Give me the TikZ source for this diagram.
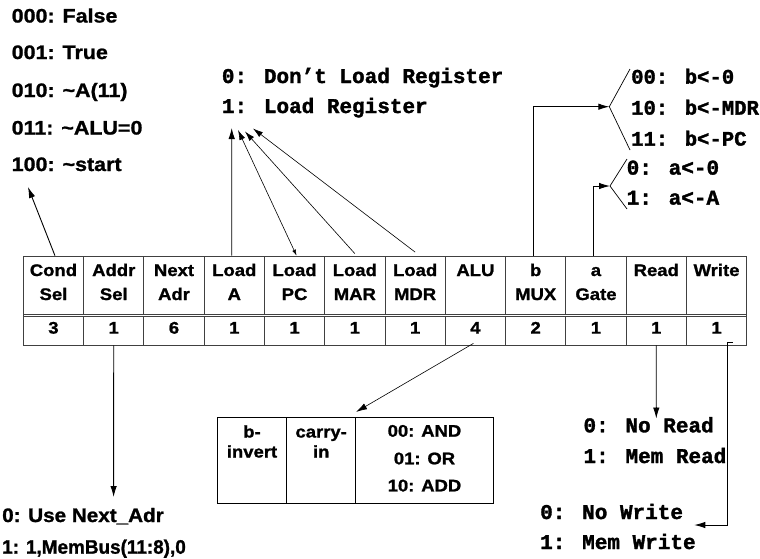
\documentclass[tikz,border=0pt]{standalone}
\usepackage{fontspec}
\usetikzlibrary{arrows.meta,calc}
\newfontfamily\hvb{Liberation Sans Bold}[FakeStretch=1.1, FakeBold=1.2]
\newfontfamily\hvbn{Liberation Sans Bold}[FakeStretch=0.97, FakeBold=1.2]
\newfontfamily\hvbm{Liberation Sans Bold}[FakeStretch=1.06, FakeBold=1.2]
\newfontfamily\monob{Liberation Mono Bold}[FakeBold=1.6]
\begin{document}
\begin{tikzpicture}[x=1pt,y=-1pt,
  tline/.style={draw=black!75, line width=0.8pt},
  hbox/.style={tline, minimum width=60.28pt, minimum height=58pt, inner sep=0pt},
  nbox/.style={tline, minimum width=60.28pt, minimum height=29pt, inner sep=0pt},
  abox/.style={draw=black, line width=0.8pt, minimum height=86pt, inner sep=0pt},
  tt/.style={font=\hvb\fontsize{16.8}{19}\selectfont, inner sep=0pt, anchor=base},
  lbl/.style={font=\hvb\fontsize{19.5}{22}\selectfont, inner sep=0pt, anchor=west, text height=14pt, text depth=0pt},
  mlbl/.style={font=\monob\fontsize{21}{24}\selectfont, inner sep=0pt, anchor=west, text height=12.6pt, text depth=0pt},
  arr/.style={draw=black, line width=0.9pt, -{Latex[length=11pt,width=6.5pt]}},
  brk/.style={draw=black, line width=0.7pt}
]
\useasboundingbox (0,0) rectangle (760,558);

% table
\foreach \i/\ta/\tb/\n in {1/Cond/Sel/3, 2/Addr/Sel/1, 3/Next/Adr/6, 4/Load/A/1, 5/Load/PC/1, 6/Load/MAR/1, 7/Load/MDR/1, 8/ALU//4, 9/b/MUX/2, 10/a/Gate/1, 11/Read//1, 12/Write//1}{
  \pgfmathsetmacro{\cx}{23.3+(\i-1)*60.28+30.14}
  \node[hbox] (c\i) at (\cx,285) {};
  \node[nbox] (n\i) at (\cx,330.5) {};
  \node[tt] (ha\i) at (\cx,276) {\ta};
  \node[tt] (hb\i) at (\cx,300) {\tb};
  \node[tt] (nv\i) at (\cx,333.6) {\n};
}
\draw[tline] (23.3,314) -- (23.3,316) (746.7,314) -- (746.7,316);

% left condition labels
\node[lbl] (cs0) at (11.5,15.5) {000: False};
\node[lbl] (cs1) at (11.5,52) {001: True};
\node[lbl] (cs2) at (11.5,90) {010: \textasciitilde A(11)};
\node[lbl] (cs3) at (11.5,127.5) {011: \textasciitilde ALU=0};
\node[lbl] (cs4) at (11.5,164) {100: \textasciitilde start};
\coordinate (cst) at (28,187);
\draw[arr] ($(c1.north)+(1.5,0)$) -- (cst);

% load register labels
\node[mlbl] (ld0) at (221.7,76.7) {0: Don’t Load Register};
\node[mlbl] (ld1) at (221.7,106.7) {1: Load Register};
\coordinate (la) at (231.7,128);
\coordinate (lp) at (238,130);
\coordinate (lm) at (245,131.5);
\coordinate (ld) at (253,128.5);
\draw[arr] ($(c4.north)+(-2.5,0)$) -- (la);
\draw[draw=black, line width=0.6pt, {Latex[length=6pt,width=4pt]}-{Latex[length=10pt,width=6pt]}] ($(c5.north)+(2,0)$) -- (lp);
\draw[draw=black, line width=0.6pt, -{Latex[length=10pt,width=6pt]}] ($(c6.north)+(0,-2)$) -- (lm);
\draw[draw=black, line width=0.6pt, -{Latex[length=10pt,width=6pt]}] ($(c7.north)+(0,-3.5)$) -- (ld);

% b MUX
\node[mlbl, font=\monob\fontsize{20.6}{24}\selectfont] (bm0) at (631,77.3) {00: b<-0};
\node[mlbl, font=\monob\fontsize{20.6}{24}\selectfont] (bm1) at (631,108.3) {10: b<-MDR};
\node[mlbl, font=\monob\fontsize{20.6}{24}\selectfont] (bm2) at (631,139.3) {11: b<-PC};
\coordinate (bm) at (609.3,106.7);
\draw[arr] ($(c9.north)+(-2,0)$) |- (bm);
\draw[brk] (630,69) -- (bm) -- (630,150);

% a Gate
\node[mlbl] (ag0) at (626.5,168.3) {0: a<-0};
\node[mlbl] (ag1) at (626.5,198.3) {1: a<-A};
\coordinate (ag) at (610,186);
\draw[arr] ($(c10.north)+(-3,0)$) |- (ag);
\draw[brk] (627,159) -- (ag) -- (627,209);

% Addr Sel
\node[lbl, font=\hvbm\fontsize{19.5}{22}\selectfont] (as0) at (2,515) {0: Use Next\_Adr};
\node[lbl, font=\hvbn\fontsize{19.5}{22}\selectfont] (as1) at (2,546.7) {1: 1,MemBus(11:8),0};
\coordinate (ast) at (113.6,497);
\draw[arr] (n2.south) -- (ast);

% ALU sub-fields
\node[abox, minimum width=69.4pt] (ab1) at (252,460.3) {};
\node[abox, minimum width=69pt] (ab2) at (321.2,460.3) {};
\node[abox, minimum width=137.6pt] (ab3) at (424.5,460.3) {};
\node[tt] (ab1a) at (252,437.5) {b-};
\node[tt] (ab1b) at (252,457.5) {invert};
\node[tt] (ab2a) at (321.2,437.5) {carry-};
\node[tt] (ab2b) at (321.2,457.5) {in};
\node[tt] (ab3a) at (424.5,436.7) {00: AND};
\node[tt] (ab3b) at (424.5,464.3) {01: OR};
\node[tt] (ab3c) at (424.5,491.4) {10: ADD};
\draw[draw=black, line width=0.6pt, -{Latex[length=11pt,width=6.5pt]}] ($(n8.south)+(-2,-2)$) -- ($(ab2.north east)+(0,-5)$);

% Read
\node[mlbl] (rd0) at (583.3,426) {0: No Read};
\node[mlbl] (rd1) at (583.3,456.7) {1: Mem Read};
\coordinate (rd) at (656.3,418.5);
\draw[arr] (n11.south) -- (rd);

% Write
\node[mlbl] (wr0) at (540,512.7) {0: No Write};
\node[mlbl] (wr1) at (540,542.7) {1: Mem Write};
\coordinate (wr) at (694.3,525);
\draw[arr] ($(n12.south)+(16.2,-3)$) -- ++(-5,0) |- (wr);
\end{tikzpicture}
\end{document}
